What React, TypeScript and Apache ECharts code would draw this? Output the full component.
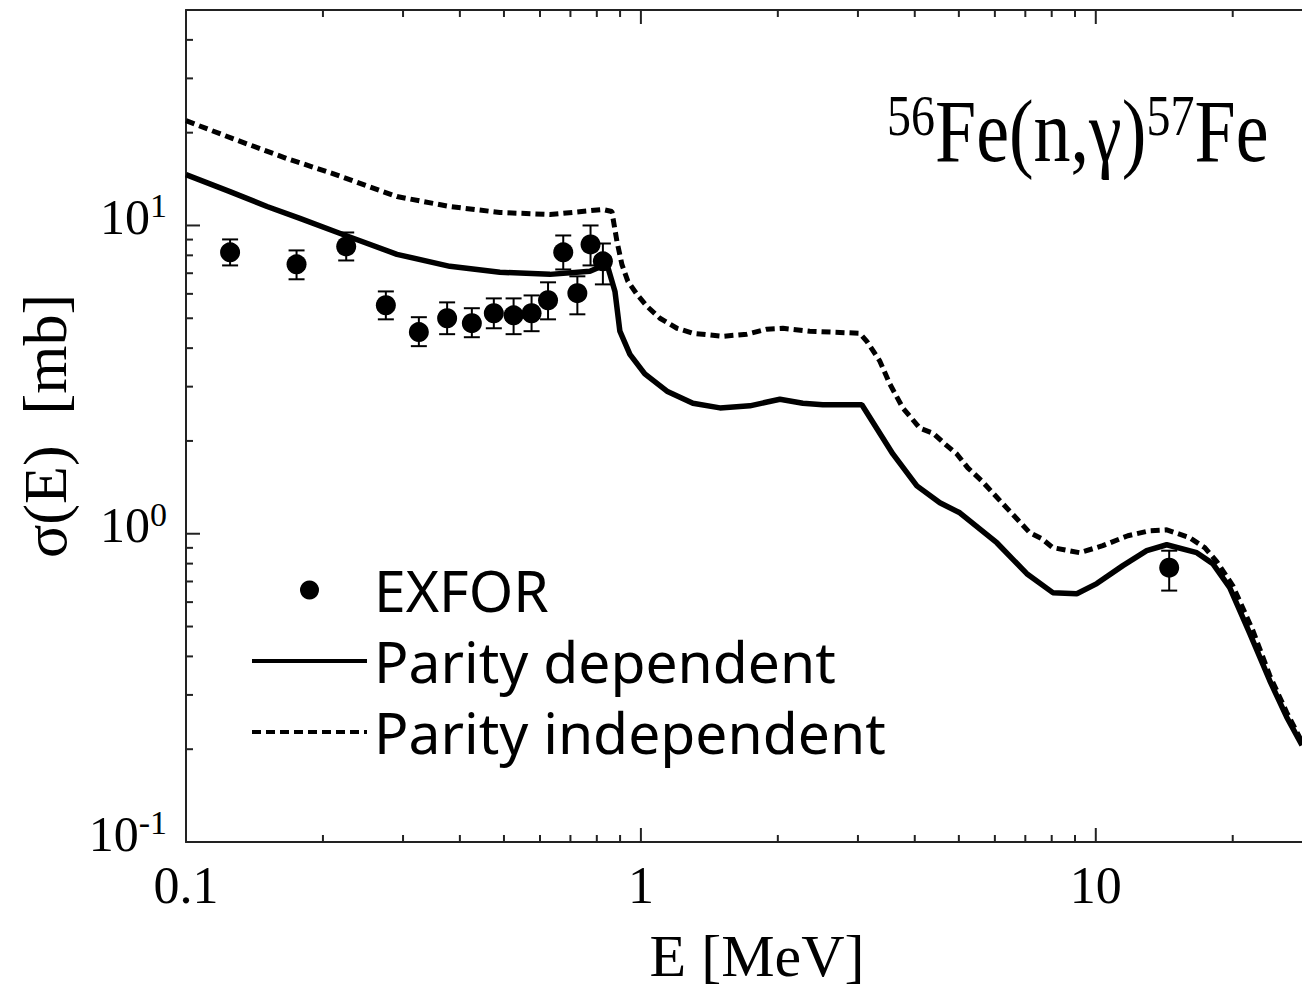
import React, { useEffect, useRef } from "react";
import * as echarts from "echarts";

// ---------- data ----------
const exforE = [0.125, 0.175, 0.225, 0.275, 0.325, 0.375, 0.425, 0.475, 0.525, 0.575, 0.625, 0.675, 0.725, 0.775, 0.825, 14.5];
const exforS = [8.18, 7.48, 8.55, 5.51, 4.51, 5.0, 4.82, 5.19, 5.11, 5.19, 5.72, 8.18, 6.03, 8.68, 7.65, 0.776];
const exforLow = [7.42, 6.69, 7.7, 4.96, 4.06, 4.44, 4.34, 4.64, 4.44, 4.54, 4.96, 7.2, 5.15, 7.42, 6.44, 0.654];
const exforHigh = [9.01, 8.3, 9.49, 6.11, 5.04, 5.63, 5.39, 5.8, 5.8, 5.93, 6.54, 9.28, 6.84, 10.0, 8.74, 0.881];

const depE = [0.1, 0.1249, 0.1507, 0.178, 0.2213, 0.2909, 0.3803, 0.4899, 0.631, 0.7725, 0.842, 0.877, 0.899, 0.946, 1.02, 1.141, 1.301, 1.492, 1.736, 2.021, 2.27, 2.512, 3.06, 3.58, 4.043, 4.542, 5.024, 6.059, 7.053, 8.045, 9.083, 10.05, 11.47, 12.94, 14.32, 16.67, 18.08, 19.7, 21.8, 24.12, 26.29, 28.4];
const depS = [14.62, 12.88, 11.52, 10.54, 9.35, 8.06, 7.37, 7.05, 6.94, 7.1, 7.5, 6.11, 4.54, 3.82, 3.3, 2.9, 2.65, 2.56, 2.6, 2.73, 2.65, 2.62, 2.62, 1.815, 1.43, 1.26, 1.169, 0.935, 0.742, 0.644, 0.639, 0.689, 0.788, 0.881, 0.921, 0.868, 0.8, 0.669, 0.475, 0.334, 0.254, 0.206];

const indE = [0.1, 0.1268, 0.1667, 0.2103, 0.2909, 0.3803, 0.4899, 0.631, 0.825, 0.8634, 0.8858, 0.9082, 0.9363, 0.98, 1.031, 1.101, 1.2, 1.301, 1.514, 1.71, 1.892, 2.052, 2.352, 3.029, 3.138, 3.352, 3.526, 3.765, 4.104, 4.384, 4.658, 4.948, 5.232, 5.616, 5.937, 6.246, 6.706, 7.16, 7.609, 8.045, 9.222, 10.36, 11.76, 13.14, 14.32, 16.09, 17.36, 18.45, 20.0, 22.14, 24.12, 26.29, 28.4];
const indS = [21.87, 19.12, 16.48, 14.73, 12.41, 11.52, 11.02, 10.85, 11.27, 11.1, 8.88, 7.48, 6.59, 5.98, 5.47, 5.0, 4.64, 4.47, 4.37, 4.44, 4.61, 4.64, 4.54, 4.47, 4.21, 3.63, 3.06, 2.56, 2.2, 2.12, 1.956, 1.815, 1.636, 1.484, 1.357, 1.251, 1.118, 1.007, 0.963, 0.901, 0.868, 0.915, 0.985, 1.023, 1.03, 0.971, 0.901, 0.812, 0.679, 0.486, 0.347, 0.263, 0.211];

const xMajor = [0.1, 1, 10];
const xMinor = [0.2, 0.3, 0.4, 0.5, 0.6, 0.7, 0.8, 0.9, 2, 3, 4, 5, 6, 7, 8, 9, 20];
const yMajor = [0.1, 1, 10];
const yMinor = [0.2, 0.3, 0.4, 0.5, 0.6, 0.7, 0.8, 0.9, 2, 3, 4, 5, 6, 7, 8, 9, 20, 30, 40];

const X_MIN = 0.1;
const X_MAX = 28.4;
const Y_MIN = 0.1;
const Y_MAX = 50;

const MAJOR_LEN = 14;
const MINOR_LEN = 7;
const TICK_W = 2;

const SERIF = '"Liberation Serif", "Times New Roman", serif';
const SANS = '"Noto Sans", "DejaVu Sans", sans-serif';
const AXIS_COLOR = "#222";

const titleGraphic: any = {
  id: "title",
  type: "text",
  x: 887,
  y: 87,
  scaleY: 1.2,
  style: {
    text: "{s|56}{m|Fe(n,γ)}{s|57}{m|Fe}",
    x: 0,
    y: 0,
    align: "left",
    verticalAlign: "top",
    fill: "#000",
    rich: {
      s: { fontFamily: SERIF, fontSize: 48, fill: "#000", verticalAlign: "top" },
      m: { fontFamily: SERIF, fontSize: 74, fill: "#000", verticalAlign: "bottom" },
    },
  },
};

function buildOption(): any {
  const xBottom: any = {
    type: "log",
    logBase: 10,
    min: X_MIN,
    max: X_MAX,
    position: "bottom",
    axisLine: { show: true, onZero: false, lineStyle: { color: AXIS_COLOR, width: 2 } },
    axisTick: { show: false },
    splitLine: { show: false },
    minorTick: { show: false },
    axisLabel: {
      show: true,
      customValues: xMajor,
      margin: 17,
      fontFamily: SERIF,
      fontSize: 52,
      color: "#000",
      formatter: (v: number) => String(Number(v.toPrecision(3))),
    },
    name: "E [MeV]",
    nameLocation: "middle",
    nameGap: 84,
    nameTextStyle: { fontFamily: SERIF, fontSize: 60, color: "#000", padding: [0, 0, 0, 26] },
  };
  const xTop: any = {
    type: "log",
    logBase: 10,
    min: X_MIN,
    max: X_MAX,
    position: "top",
    axisLine: { show: true, onZero: false, lineStyle: { color: AXIS_COLOR, width: 2 } },
    axisTick: { show: false },
    axisLabel: { show: false },
    splitLine: { show: false },
    minorTick: { show: false },
  };

  const yLeft: any = {
    type: "log",
    logBase: 10,
    min: Y_MIN,
    max: Y_MAX,
    position: "left",
    axisLine: { show: true, onZero: false, lineStyle: { color: AXIS_COLOR, width: 2 } },
    axisTick: { show: false },
    splitLine: { show: false },
    minorTick: { show: false },
    axisLabel: {
      show: true,
      customValues: yMajor,
      margin: 19,
      color: "#000",
      formatter: (v: number) => `{b|10}{s|${Math.round(Math.log10(v))}}`,
      rich: {
        b: { fontFamily: SERIF, fontSize: 50, color: "#000", verticalAlign: "bottom", padding: [3, 0, 20, 0] },
        s: { fontFamily: SERIF, fontSize: 34, color: "#000", verticalAlign: "top" },
      },
    },
    name: "σ(E)  [mb]",
    nameLocation: "middle",
    nameRotate: 90,
    nameGap: 110,
    nameTextStyle: { fontFamily: SERIF, fontSize: 62, color: "#000" },
  };

  // tick rows: x ticks [value, 1, length]; y ticks [1, value, length]
  const xTickRows = [...xMajor.map((v) => [v, 1, MAJOR_LEN]), ...xMinor.map((v) => [v, 1, MINOR_LEN])];
  const yTickRows = [...yMajor.map((v) => [1, v, MAJOR_LEN]), ...yMinor.map((v) => [1, v, MINOR_LEN])];

  return {
    animation: false,
    backgroundColor: "#fff",
    grid: { left: 186, right: 0, top: 10, bottom: 150, containLabel: false, outerBoundsMode: "none" },
    xAxis: [xBottom, xTop],
    yAxis: [yLeft],
    legend: {
      data: [
        { name: "EXFOR", itemStyle: { color: "#000", opacity: 1 } },
        { name: "Parity dependent", itemStyle: { opacity: 0 } },
        { name: "Parity independent", itemStyle: { opacity: 0 } },
      ],
      orient: "vertical",
      left: 250,
      top: 560,
      padding: 0,
      itemWidth: 115,
      itemHeight: 19,
      itemGap: 11,
      lineStyle: { width: 4 },
      selectedMode: false,
      textStyle: { fontFamily: SANS, fontSize: 57, color: "#000", lineHeight: 60, padding: [0, 0, 0, 2] },
    },
    graphic: [titleGraphic],
    series: [
      {
        name: "Parity independent",
        type: "line",
        data: indE.map((e, i) => [e, indS[i]]),
        symbol: "none",
        showSymbol: false,
        smooth: false,
        lineStyle: { color: "#000", width: 5, type: [9, 5] },
        itemStyle: { color: "#000" },
        z: 2,
      },
      {
        name: "Parity dependent",
        type: "line",
        data: depE.map((e, i) => [e, depS[i]]),
        symbol: "none",
        showSymbol: false,
        smooth: false,
        lineStyle: { color: "#000", width: 5.5 },
        itemStyle: { color: "#000" },
        z: 3,
      },
      {
        name: "errbars",
        type: "custom",
        data: exforE.map((e, i) => [e, exforLow[i], exforHigh[i]]),
        encode: { x: 0, y: [1, 2] },
        z: 4,
        renderItem: (params: any, api: any) => {
          const x = api.value(0);
          const pLo = api.coord([x, api.value(1)]);
          const pHi = api.coord([x, api.value(2)]);
          const w = 8;
          const style = { stroke: "#000", lineWidth: 2 };
          return {
            type: "group",
            children: [
              { type: "line", shape: { x1: pLo[0], y1: pLo[1], x2: pHi[0], y2: pHi[1] }, style },
              { type: "line", shape: { x1: pLo[0] - w, y1: pLo[1], x2: pLo[0] + w, y2: pLo[1] }, style },
              { type: "line", shape: { x1: pHi[0] - w, y1: pHi[1], x2: pHi[0] + w, y2: pHi[1] }, style },
            ],
          };
        },
      },
      {
        name: "xTicks",
        type: "custom",
        data: xTickRows,
        encode: { x: 0, y: [1, 2] },
        z: 6,
        renderItem: (params: any, api: any) => {
          const v = api.value(0);
          const len = api.value(2);
          const pb = api.coord([v, Y_MIN]);
          const pt = api.coord([v, Y_MAX]);
          return {
            type: "group",
            children: [
              { type: "line", shape: { x1: pb[0], y1: pb[1], x2: pb[0], y2: pb[1] - len }, style: { stroke: AXIS_COLOR, lineWidth: TICK_W } },
              { type: "line", shape: { x1: pt[0], y1: pt[1], x2: pt[0], y2: pt[1] + len }, style: { stroke: AXIS_COLOR, lineWidth: TICK_W } },
            ],
          };
        },
      },
      {
        name: "yTicks",
        type: "custom",
        data: yTickRows,
        encode: { x: [0, 2], y: 1 },
        z: 6,
        renderItem: (params: any, api: any) => {
          const v = api.value(1);
          const len = api.value(2);
          const p = api.coord([X_MIN, v]);
          return {
            type: "group",
            children: [
              { type: "line", shape: { x1: p[0], y1: p[1], x2: p[0] + len, y2: p[1] }, style: { stroke: AXIS_COLOR, lineWidth: TICK_W } },
            ],
          };
        },
      },
      {
        name: "EXFOR",
        type: "scatter",
        data: exforE.map((e, i) => [e, exforS[i]]),
        symbol: "circle",
        symbolSize: 20,
        itemStyle: { color: "#000", opacity: 1 },
        z: 5,
      },
    ],
  };
}

export default function App() {
  const ref = useRef<HTMLDivElement>(null);
  useEffect(() => {
    if (!ref.current) return;
    const chart = echarts.init(ref.current, null, { renderer: "svg" });
    chart.setOption(buildOption());
    return () => chart.dispose();
  }, []);
  return (
    <div
      ref={ref}
      style={{ position: "fixed", left: 0, top: 0, width: 1302, height: 992, background: "#fff" }}
    />
  );
}
